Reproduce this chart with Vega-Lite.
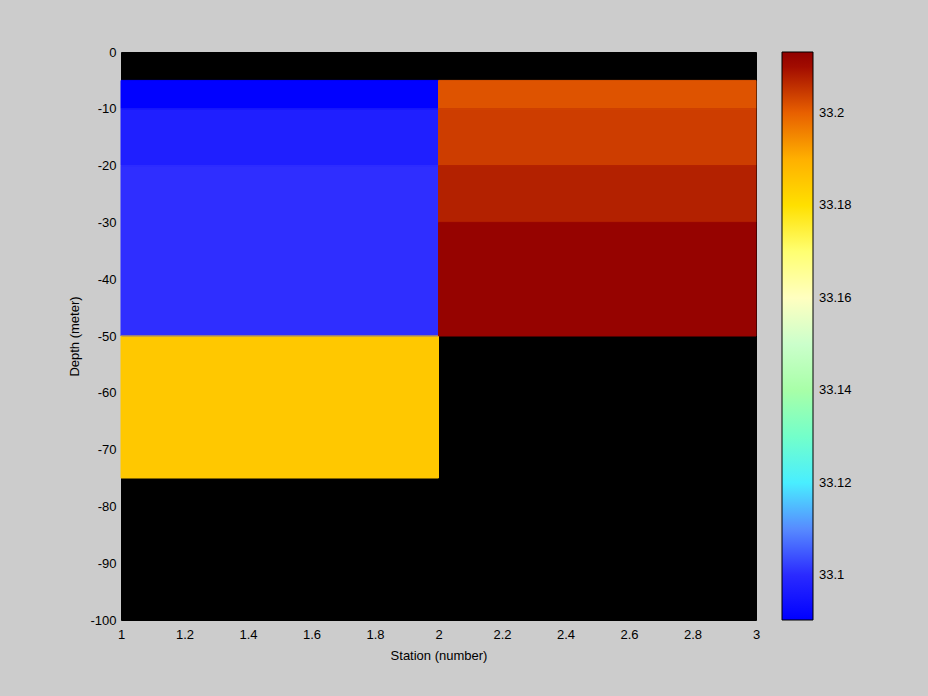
{
  "$schema": "https://vega.github.io/schema/vega-lite/v6.json",
  "width": 635,
  "height": 568,
  "autosize": {"type": "none"},
  "padding": {"left": 121, "top": 52, "right": 172, "bottom": 76},
  "background": "#cccccc",
  "config": {
    "font": "Liberation Sans",
    "view": {"fill": "black", "stroke": "black"},
    "axis": {"domain": false, "ticks": false, "grid": false, "labelColor": "black", "labelFontSize": 13, "titleFontSize": 13, "titleFontWeight": "normal", "titleColor": "black", "labelFont": "Liberation Sans", "titleFont": "Liberation Sans"}
  },
  "data": {
    "values": [
      {"station_start": 1, "station_end": 2, "depth_top": -5, "depth_bottom": -10, "salinity": 33.0905},
      {"station_start": 1, "station_end": 2, "depth_top": -10, "depth_bottom": -20, "salinity": 33.0962},
      {"station_start": 1, "station_end": 2, "depth_top": -20, "depth_bottom": -50, "salinity": 33.1004},
      {"station_start": 1, "station_end": 2, "depth_top": -50, "depth_bottom": -75, "salinity": 33.185},
      {"station_start": 2, "station_end": 3, "depth_top": -5, "depth_bottom": -10, "salinity": 33.2015},
      {"station_start": 2, "station_end": 3, "depth_top": -10, "depth_bottom": -20, "salinity": 33.204},
      {"station_start": 2, "station_end": 3, "depth_top": -20, "depth_bottom": -30, "salinity": 33.2078},
      {"station_start": 2, "station_end": 3, "depth_top": -30, "depth_bottom": -50, "salinity": 33.2122}
    ]
  },
  "encoding": {
    "x": {
      "field": "station_start", "type": "quantitative",
      "scale": {"domain": [1, 3], "nice": false, "zero": false},
      "axis": {"values": [1, 1.2, 1.4, 1.6, 1.8, 2, 2.2, 2.4, 2.6, 2.8, 3], "format": "~g", "title": "Station (number)", "labelPadding": 8, "titlePadding": 8, "labelFlush": false}
    },
    "x2": {"field": "station_end"},
    "y": {
      "field": "depth_top", "type": "quantitative",
      "scale": {"domain": [-100, 0], "nice": false, "zero": false},
      "axis": {"values": [-100, -90, -80, -70, -60, -50, -40, -30, -20, -10, 0], "labelExpr": "'' + datum.value", "title": "Depth (meter)", "labelPadding": 5, "titlePadding": 8, "labelFlush": false}
    },
    "y2": {"field": "depth_bottom"}
  },
  "layer": [
    {
      "mark": {"type": "rect", "strokeWidth": 0},
      "encoding": {
        "color": {
          "field": "salinity", "type": "quantitative",
          "scale": {
            "type": "linear",
            "domain": [33.0903, 33.1, 33.107, 33.112, 33.116, 33.122, 33.129, 33.137, 33.145, 33.152, 33.16, 33.166, 33.172, 33.18, 33.185, 33.19, 33.197, 33.2, 33.2035, 33.207, 33.209, 33.2132],
            "range": ["#0000ff", "#2a2aff", "#6464ff", "#60a0ff", "#5fc8ff", "#55ffff", "#70ffd0", "#99ff99", "#c0ffc0", "#ffffff", "#ffffc0", "#ffff90", "#ffff60", "#ffe000", "#ffc800", "#ffb000", "#ff8000", "#e86000", "#d04000", "#bb2a00", "#a81000", "#900000"]
          },
          "legend": {
            "type": "gradient",
            "orient": "none", "legendX": 661, "legendY": 0, "direction": "vertical",
            "gradientLength": 568, "gradientThickness": 31,
            "gradientStrokeColor": "black", "gradientStrokeWidth": 1,
            "title": null, "values": [33.1, 33.12, 33.14, 33.16, 33.18, 33.2],
            "format": "~g", "labelFontSize": 13, "labelColor": "black", "labelOffset": 6,
            "labelOverlap": false, "labelFont": "Liberation Sans"
          }
        }
      }
    },
    {
      "mark": {"type": "rect", "filled": false, "strokeWidth": 1},
      "encoding": {
        "stroke": {
          "field": "salinity", "type": "quantitative",
          "scale": {
            "type": "linear",
            "domain": [33.0903, 33.1, 33.107, 33.112, 33.116, 33.122, 33.129, 33.137, 33.145, 33.152, 33.16, 33.166, 33.172, 33.18, 33.185, 33.19, 33.197, 33.2, 33.2035, 33.207, 33.209, 33.2132],
            "range": ["#0000ff", "#2a2aff", "#6464ff", "#60a0ff", "#5fc8ff", "#55ffff", "#70ffd0", "#99ff99", "#c0ffc0", "#ffffff", "#ffffc0", "#ffff90", "#ffff60", "#ffe000", "#ffc800", "#ffb000", "#ff8000", "#e86000", "#d04000", "#bb2a00", "#a81000", "#900000"]
          },
          "legend": null
        }
      }
    }
  ],
  "resolve": {"scale": {"stroke": "independent"}, "legend": {"stroke": "independent", "color": "independent"}}
}
